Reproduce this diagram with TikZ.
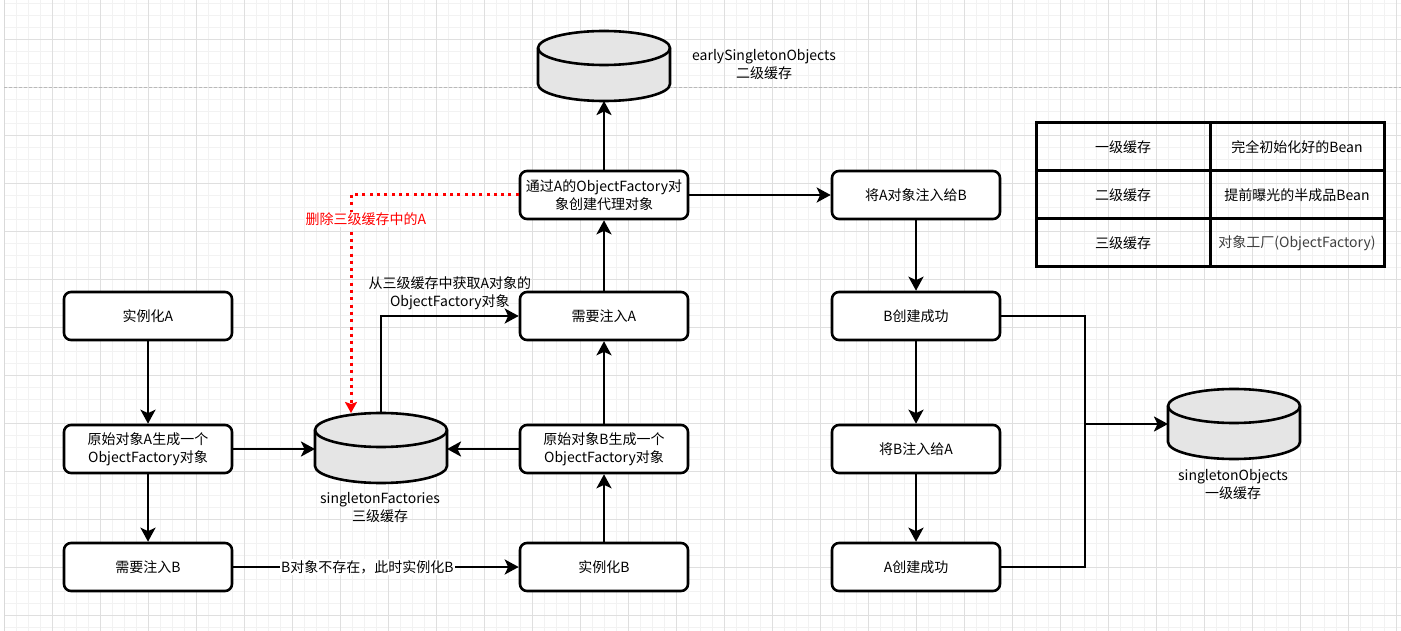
\documentclass[tikz,border=0pt]{standalone}
\usepackage{fontspec}
\setmainfont{Noto Sans CJK SC}
\usetikzlibrary{arrows.meta}

\tikzset{
    box/.style={draw, line width=2.6pt, rounded corners=7pt, fill=white,
        minimum width=168pt, minimum height=48pt, align=center},
    cell/.style={draw, line width=3pt, minimum width=174pt, minimum height=48pt},
    flow/.style={line width=2.6pt, -{Stealth[length=14pt,width=15pt,inset=3.5pt]}},
    delflow/.style={draw=red, line width=3pt, dash pattern=on 3pt off 4.3pt,
        -{Stealth[length=11pt,width=12pt,inset=2pt]}},
    lbl/.style={fill=white, inner sep=1pt, align=center},
    minorgrid/.style={gray!10, line width=0.8pt},
    majorgrid/.style={gray!25, line width=0.8pt},
    cyl/.style={draw, line width=2.6pt, fill=gray!20}
}

\newcommand{\cachedb}[3]{%
    \filldraw[cyl] (#2-66,#3-18) -- (#2-66,#3+18)
        arc[start angle=180, end angle=360, x radius=66pt, y radius=17pt]
        -- (#2+66,#3-18)
        arc[start angle=0, end angle=180, x radius=66pt, y radius=17pt] -- cycle;
    \draw[line width=2.6pt] (#2-66,#3-18)
        arc[start angle=180, end angle=360, x radius=66pt, y radius=17pt];
    \node[minimum width=132pt, minimum height=70pt, inner sep=0pt, outer sep=0pt] (#1) at (#2,#3) {};
}

\begin{document}
\begin{tikzpicture}[x=1pt, y=-1pt, font=\fontsize{14pt}{18pt}\selectfont]
    \useasboundingbox (0,0) rectangle (1401,631);
    \fill[white] (0,0) rectangle (1401,631);
    \foreach \x in {4.3,16.3,...,1401}
        \draw[minorgrid] (\x,0) -- (\x,631);
    \foreach \y in {3.3,15.3,...,631}
        \draw[minorgrid] (4,\y) -- (1401,\y);
    \foreach \x in {4.3,52.3,...,1401}
        \draw[majorgrid] (\x,0) -- (\x,631);
    \foreach \y in {39.3,87.3,...,631}
        \draw[majorgrid] (4,\y) -- (1401,\y);
    \draw[gray!30, line width=1pt] (4,0) -- (4,631);
    \draw[gray!55, line width=1pt, dash pattern=on 3pt off 2pt] (4,87.3) -- (1401,87.3);

    \node[box] (instA) at (148,316) {实例化A};
    \node[box] (genA) at (148,449) {原始对象A生成一个\\ObjectFactory对象};
    \node[box] (needB) at (148,567) {需要注入B};
    \node[box] (instB) at (604,567) {实例化B};
    \node[box] (genB) at (604,449) {原始对象B生成一个\\ObjectFactory对象};
    \node[box] (needA) at (604,316) {需要注入A};
    \node[box] (proxyA) at (604,195) {通过A的ObjectFactory对\\象创建代理对象};
    \node[box] (injA) at (916,195) {将A对象注入给B};
    \node[box] (doneB) at (916,316) {B创建成功};
    \node[box] (injB) at (916,449) {将B注入给A};
    \node[box] (doneA) at (916,567) {A创建成功};

    \cachedb{sf}{381}{448}
    \cachedb{eso}{604}{66}
    \cachedb{so}{1234}{424}
    \node[align=center] (sflbl) at (380,508) {singletonFactories\\三级缓存};
    \node[align=center] (esolbl) at (764,65) {earlySingletonObjects\\二级缓存};
    \node[align=center] (solbl) at (1233,485) {singletonObjects\\一级缓存};

    \foreach \r/\k/\v/\c in {0/一级缓存/完全初始化好的Bean/black,
        1/二级缓存/提前曝光的半成品Bean/black,
        2/三级缓存/对象工厂(ObjectFactory)/black!75}
    {
        \node[cell] (lvl\r) at (1123,147+48*\r) {\k};
        \node[cell, text=\c] (desc\r) at (1297,147+48*\r) {\v};
    }

    \draw[flow] (instA) -- (genA);
    \draw[flow] (genA) -- (needB);
    \draw[flow] (genA) -- (genA -| sf.west);
    \draw[flow] (needB) -- node[lbl, pos=0.47] {B对象不存在，此时实例化B} (instB);
    \draw[flow] (instB) -- (genB);
    \draw[flow] (genB) -- (genB -| sf.east);
    \draw[flow] (genB) -- (needA);
    \draw[flow] (sf.north) |- node[pos=0.75, above=1pt, align=center] {从三级缓存中获取A对象的\\ObjectFactory对象} (needA);
    \draw[flow] (needA) -- (proxyA);
    \draw[flow] (proxyA) -- (eso);
    \draw[flow] (proxyA) -- (injA);
    \draw[delflow] (proxyA.west) -| node[lbl, pos=0.556, xshift=15pt, text=red] {删除三级缓存中的A} ([xshift=-30pt]sf.north);

    \draw[flow] (injA) -- (doneB);
    \draw[flow] (doneB) -- (injB);
    \draw[flow] (injB) -- (doneA);
    \coordinate (merge) at (1085,424);
    \draw[flow] (doneB.east) -| (merge) -- (so.west);
    \draw[line width=2.6pt] (doneA.east) -| (merge);
\end{tikzpicture}
\end{document}
